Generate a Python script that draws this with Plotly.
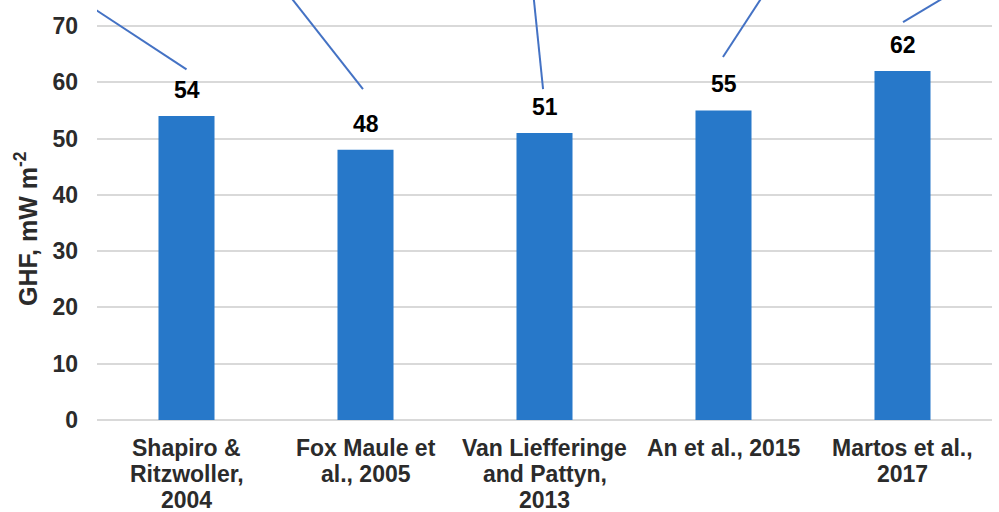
import plotly.graph_objects as go

# Geothermal heat flux estimates (mW m^-2) by study
studies = [
    "Shapiro &<br>Ritzwoller,<br>2004",
    "Fox Maule et<br>al., 2005",
    "Van Liefferinge<br>and Pattyn,<br>2013",
    "An et al., 2015",
    "Martos et al.,<br>2017",
]
ghf = [54, 48, 51, 55, 62]

y_ticks = [0, 10, 20, 30, 40, 50, 60, 70]

# Leader lines: lower end (category index, value) and upper end running off the top
leader_x0 = [0.0, 0.986, 1.992, 2.997, 4.003]
leader_y0 = [62.3, 58.8, 58.8, 64.5, 70.7]
leader_x1 = [-0.753, 0.511, 1.930, 3.274, 4.388]
leader_y1 = [78, 78, 78, 78, 78]

FONT = "Liberation Sans, Arial, sans-serif"
BAR_COLOR = "#2778C9"
LINE_COLOR = "#4472C4"
GRID = "#d9d9d9"
TEXT = "#2b2b2b"
LABEL_SIZE = 23
LINE_STEP = 26  # px between wrapped lines of a category label

fig = go.Figure()
fig.add_trace(go.Bar(
    x=list(range(len(studies))),
    y=ghf,
    width=0.313,
    marker=dict(color=BAR_COLOR, line=dict(width=0)),
    hoverinfo="skip",
))

# value labels above the bars
for i, v in enumerate(ghf):
    fig.add_annotation(
        x=i, y=v, xref="x", yref="y", text=str(v), showarrow=False,
        yshift=26, yanchor="middle",
        font=dict(family=FONT, size=LABEL_SIZE, color="#000000", weight="bold"),
    )

# category labels, one text per wrapped line for tight line spacing
for i, name in enumerate(studies):
    for k, part in enumerate(name.split("<br>")):
        fig.add_annotation(
            x=i, y=0, xref="x", yref="paper", text=part, showarrow=False,
            xanchor="center", yanchor="top", yshift=-13 - LINE_STEP * k,
            font=dict(family=FONT, size=LABEL_SIZE, color=TEXT, weight="bold"),
        )

# leader lines
for x0, y0, x1, y1 in zip(leader_x0, leader_y0, leader_x1, leader_y1):
    fig.add_shape(
        type="line", xref="x", yref="y", x0=x0, y0=y0, x1=x1, y1=y1,
        line=dict(color=LINE_COLOR, width=2),
    )

# y-axis title
fig.add_annotation(
    xref="paper", yref="paper", x=-0.0793, y=0.455,
    text="GHF, mW m<sup>-2</sup>", textangle=-90, showarrow=False,
    xanchor="center", yanchor="middle",
    font=dict(family=FONT, size=25, color=TEXT, weight="bold"),
)

fig.update_layout(
    width=999, height=512,
    margin=dict(l=97, r=7, t=0, b=92),
    paper_bgcolor="white", plot_bgcolor="white",
    showlegend=False,
    xaxis=dict(
        range=[-0.5, len(studies) - 0.5],
        showgrid=False, zeroline=False, showline=False,
        ticks="", showticklabels=False,
    ),
    yaxis=dict(
        range=[0, 74.62],
        tickvals=y_ticks,
        showgrid=True, gridcolor=GRID, gridwidth=2,
        zeroline=True, zerolinecolor=GRID, zerolinewidth=2,
        showline=False, ticks="", ticklabelstandoff=18,
        tickfont=dict(family=FONT, size=LABEL_SIZE, color=TEXT, weight="bold"),
    ),
)

fig.write_html("out.html")
